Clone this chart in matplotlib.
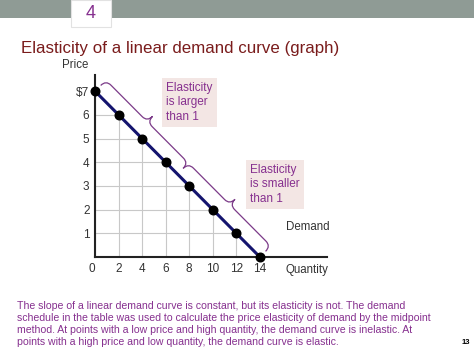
import matplotlib.pyplot as plt
import numpy as np
from matplotlib.patches import Rectangle
from matplotlib.path import Path
from matplotlib.patches import PathPatch
from matplotlib.transforms import IdentityTransform

plt.rcParams['font.family'] = ['Liberation Sans', 'DejaVu Sans']

# demand schedule
quantity = [0, 2, 4, 6, 8, 10, 12, 14]
price = [7, 6, 5, 4, 3, 2, 1, 0]
ytick_labels = ['$7', '6', '5', '4', '3', '2', '1']
xtick_labels = ['0', '2', '4', '6', '8', '10', '12', '14']

title = 'Elasticity of a linear demand curve (graph)'
box1 = 'Elasticity\nis larger\nthan 1'
box2 = 'Elasticity\nis smaller\nthan 1'
caption = ('The slope of a linear demand curve is constant, but its elasticity is not. The demand\n'
           'schedule in the table was used to calculate the price elasticity of demand by the midpoint\n'
           'method. At points with a low price and high quantity, the demand curve is inelastic. At\n'
           'points with a high price and low quantity, the demand curve is elastic.')

W, H = 474, 355
purple = '#86308F'
dark = '#333333'


def fx(x):
    return x / W


def fy(y):
    return 1 - y / H


fig = plt.figure(figsize=(W / 100, H / 100), dpi=100)

# slide header
fig.add_artist(Rectangle((0, fy(18)), 1, 18 / H, transform=fig.transFigure,
                         fc='#8F9B95', ec='none'))
fig.add_artist(Rectangle((fx(71), fy(27)), 40 / W, 27 / H, transform=fig.transFigure,
                         fc='white', ec='#e2e2e2', lw=0.8))
fig.text(fx(91), fy(13), '4', color=purple, fontsize=13, ha='center', va='center')

fig.text(fx(21), fy(49), title, color='#7A1C1C', fontsize=12.2, ha='left', va='center')

# axes
ax = fig.add_axes([fx(95), 98 / H, 232 / W, 182 / H])
ax.set_xlim(0, 19.7)
ax.set_ylim(0, 7.68)
for s in ['top', 'right']:
    ax.spines[s].set_visible(False)
for s in ['left', 'bottom']:
    ax.spines[s].set_linewidth(1.5)
    ax.spines[s].set_color('#222222')

ax.set_yticks(price[:-1])
ax.set_yticklabels(ytick_labels)
ax.set_xticks(quantity)
ax.set_xticklabels(xtick_labels)
ax.tick_params(length=0, labelsize=8.5, labelcolor=dark, pad=4)
ax.get_xticklabels()[0].set_horizontalalignment('right')

# grid inside the triangle
for q, p in zip(quantity, price):
    ax.plot([q, q], [0, p], color='#c8c8c8', lw=0.8, zorder=1)
    ax.plot([0, q], [p, p], color='#c8c8c8', lw=0.8, zorder=1)

ax.plot(quantity, price, color='#14146E', lw=2.2, zorder=3)
ax.plot(quantity, price, 'o', color='black', ms=6.2, zorder=4, clip_on=False)

fig.canvas.draw()


def brace(q0, p0, q1, p1, base=8, h=15, r=7):
    d0 = ax.transData.transform((q0, p0))
    d1 = ax.transData.transform((q1, p1))
    v = d1 - d0
    L = np.hypot(*v)
    u = v / L
    n = np.array([-u[1], u[0]])
    if n[0] < 0:
        n = -n
    half = L / 2
    local = [(0, 0), (0, h / 2), (r, h / 2),
             (half - r, h / 2), (half, h / 2), (half, h),
             (half, h / 2), (half + r, h / 2),
             (L - r, h / 2), (L, h / 2), (L, 0)]
    codes = [Path.MOVETO, Path.CURVE3, Path.CURVE3,
             Path.LINETO, Path.CURVE3, Path.CURVE3,
             Path.CURVE3, Path.CURVE3,
             Path.LINETO, Path.CURVE3, Path.CURVE3]
    pts = [d0 + u * s + n * (base + t) for s, t in local]
    fig.add_artist(PathPatch(Path(pts, codes), transform=IdentityTransform(),
                             fc='none', ec='#7B3A88', lw=0.9))


mid_q = (quantity[0] + quantity[-1]) / 2
mid_p = (price[0] + price[-1]) / 2
brace(quantity[0], price[0], mid_q, mid_p)
brace(mid_q, mid_p, quantity[-1], price[-1])

box_style = dict(boxstyle='square,pad=0.35', fc='#F3E6E4', ec='none')
fig.text(fx(166), fy(82), box1, color=purple, fontsize=8.5, ha='left', va='top',
         linespacing=1.25, bbox=box_style)
fig.text(fx(250), fy(164), box2, color=purple, fontsize=8.5, ha='left', va='top',
         linespacing=1.25, bbox=box_style)

fig.text(fx(286), fy(227), 'Demand', color=dark, fontsize=8.3, ha='left', va='center')
fig.text(fx(285), fy(270), 'Quantity', color=dark, fontsize=8.3, ha='left', va='center')
fig.text(fx(88), fy(65), 'Price', color=dark, fontsize=8.3, ha='right', va='center')

fig.text(fx(17), fy(324), caption, color=purple, fontsize=7.55, ha='left', va='center',
         linespacing=1.26)
fig.text(fx(466), fy(342), '13', color='black', fontsize=5.5, fontweight='bold',
         ha='center', va='center')

fig.savefig('out.png', dpi=100)
